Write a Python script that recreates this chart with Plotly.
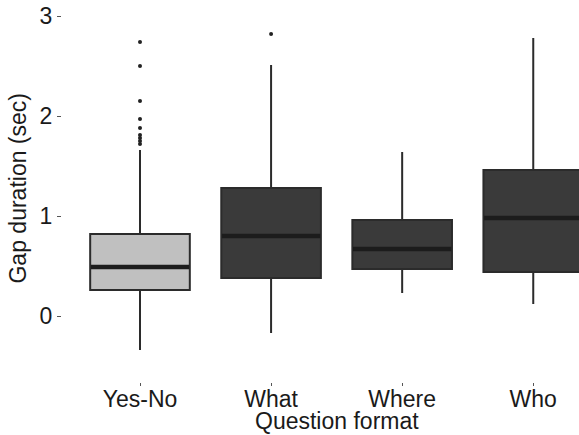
import plotly.graph_objects as go

# ---- data ----
categories = ["Yes-No", "What", "Where", "Who"]
q1 = [0.26, 0.38, 0.47, 0.44]
median = [0.49, 0.80, 0.67, 0.98]
q3 = [0.82, 1.28, 0.96, 1.46]
lower_whisker = [-0.34, -0.17, 0.23, 0.12]
upper_whisker = [1.66, 2.51, 1.64, 2.78]
yesno_outliers = [2.74, 2.50, 2.15, 1.97, 1.88, 1.81, 1.78, 1.75, 1.72]
what_outliers = [2.82]
y_ticks = [0, 1, 2, 3]

FONT = "Liberation Sans, Arial, Helvetica, sans-serif"
FS = 23
TXT = "#1a1a1a"
light_fill = "#c0c0c0"
dark_fill = "#3a3a3a"
edge = "#2b2b2b"
BOX_W = 0.76

fig = go.Figure()

fig.add_trace(go.Box(
    x=categories[:1], q1=q1[:1], median=median[:1], q3=q3[:1],
    lowerfence=lower_whisker[:1], upperfence=upper_whisker[:1],
    fillcolor=light_fill, line=dict(color=edge, width=2),
    whiskerwidth=0, width=BOX_W, boxpoints=False, showlegend=False,
    hoverinfo="skip",
))
fig.add_trace(go.Box(
    x=categories[1:], q1=q1[1:], median=median[1:], q3=q3[1:],
    lowerfence=lower_whisker[1:], upperfence=upper_whisker[1:],
    fillcolor=dark_fill, line=dict(color=edge, width=2),
    whiskerwidth=0, width=BOX_W, boxpoints=False, showlegend=False,
    hoverinfo="skip",
))
fig.add_trace(go.Box(
    x=categories, q1=median, median=median, q3=median,
    lowerfence=median, upperfence=median,
    fillcolor="rgba(0,0,0,0)", line=dict(color="#1c1c1c", width=4.5),
    whiskerwidth=0, width=BOX_W - 0.01, boxpoints=False, showlegend=False,
    hoverinfo="skip",
))
fig.add_trace(go.Scatter(
    x=[categories[0]] * len(yesno_outliers) + [categories[1]] * len(what_outliers),
    y=yesno_outliers + what_outliers,
    mode="markers", marker=dict(color="#222222", size=4),
    showlegend=False, hoverinfo="skip",
))

fig.update_layout(
    width=579, height=435,
    margin=dict(l=62, r=0, t=0, b=53, autoexpand=False),
    paper_bgcolor="white", plot_bgcolor="white",
    boxmode="overlay",
    font=dict(family=FONT, size=FS, color=TXT),
    annotations=[
        dict(text="Gap duration (sec)", textangle=-90, showarrow=False,
             xref="paper", yref="paper", x=0, y=0.5065, xanchor="center",
             yanchor="middle", xshift=-44, font=dict(family=FONT, size=FS, color=TXT)),
        dict(text="Question format", showarrow=False,
             xref="paper", yref="paper", x=0.532, y=0, xanchor="center",
             yanchor="middle", yshift=-39, font=dict(family=FONT, size=FS, color=TXT)),
    ],
)
fig.update_xaxes(
    type="category", categoryorder="array", categoryarray=categories,
    range=[-0.595, 3.349], automargin=False,
    showgrid=False, zeroline=False, showline=False,
    ticks="outside", ticklen=3, tickwidth=1, tickcolor="#555555",
    ticklabelstandoff=-7,
    tickfont=dict(family=FONT, size=FS, color=TXT),
)
fig.update_yaxes(
    range=[-0.66, 3.16], automargin=False,
    tickvals=y_ticks, ticktext=[str(t) for t in y_ticks],
    showgrid=False, zeroline=False, showline=False,
    ticks="outside", ticklen=4, tickwidth=1, tickcolor="#555555",
    tickfont=dict(family=FONT, size=FS, color=TXT),
)

fig.write_html(
    "out.html",
    config={"displayModeBar": False},
    post_script="document.body.style.margin='0';document.body.style.overflow='hidden';",
)
